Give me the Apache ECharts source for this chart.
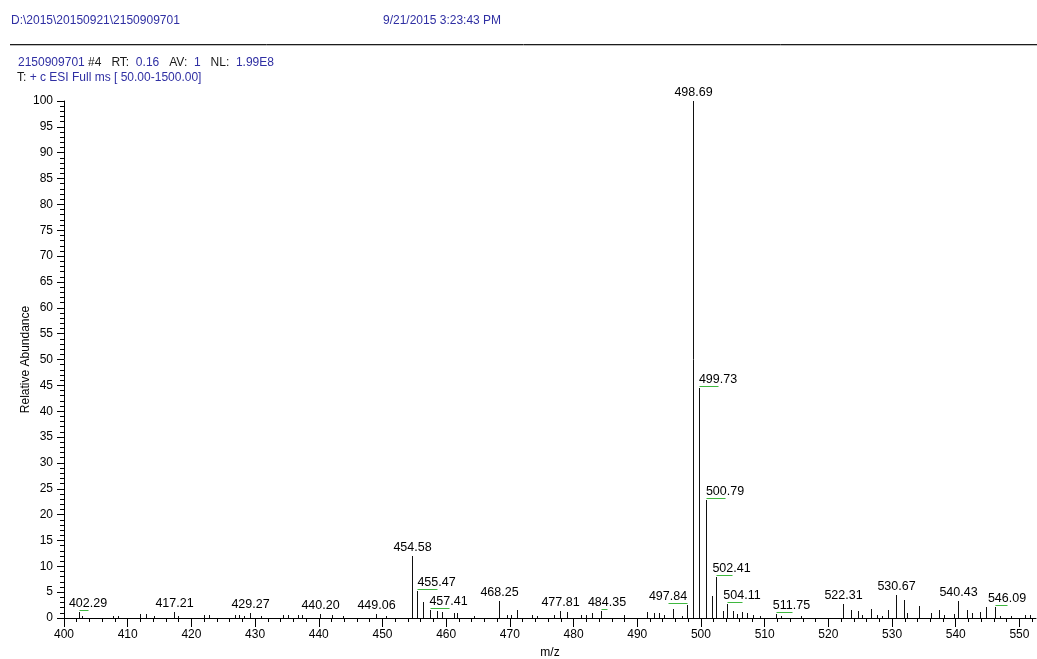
<!DOCTYPE html>
<html>
<head>
<meta charset="utf-8">
<title>2150909701 #4 mass spectrum</title>
<script src="https://cdn.jsdelivr.net/npm/echarts@6/dist/echarts.min.js"></script>
<style>
  html, body { margin: 0; padding: 0; background: #ffffff; }
  #chart { width: 1037px; height: 659px; }
</style>
</head>
<body>
<div id="chart"></div>
<script>
// Centroid peaks: m/z and relative abundance (%)
const peakMz = [
  402.29, 402.9, 407.7, 408.4, 412.0, 412.8, 414.2, 417.21, 417.9, 422.0,
  422.8, 426.8, 427.5, 428.3, 429.27, 431.0, 434.4, 435.1, 436.7, 437.3,
  440.20, 442.0, 443.8, 449.06, 450.6, 454.58, 455.47, 456.3, 457.41, 458.5,
  459.3, 461.2, 461.7, 464.3, 468.25, 469.6, 470.1, 471.1, 473.5, 474.2,
  476.9, 477.81, 478.9, 481.2, 482.0, 482.9, 484.35, 487.9, 491.6, 492.6,
  493.4, 494.2, 495.6, 497.1, 497.84, 498.69, 499.73, 500.79, 501.8, 502.41,
  503.4, 504.11, 505.1, 505.6, 506.4, 507.3, 508.2, 509.3, 511.75, 512.5,
  515.7, 522.31, 523.5, 524.7, 525.3, 526.7, 527.7, 528.4, 529.4, 530.67,
  531.8, 532.4, 534.3, 536.1, 537.4, 538.2, 539.8, 540.43, 541.8, 542.6,
  543.8, 544.8, 546.09, 546.9, 548.7, 550.8, 551.7
];
const peakIntensity = [
  1.2, 0.4, 0.4, 0.4, 0.7, 0.7, 0.3, 1.1, 0.4, 0.5,
  0.5, 0.6, 0.6, 0.3, 1.0, 0.3, 0.5, 0.5, 0.6, 0.6,
  0.8, 0.5, 0.3, 0.8, 0.4, 12.0, 5.3, 3.1, 1.6, 1.3,
  1.2, 1.0, 1.0, 0.4, 3.2, 0.6, 0.6, 1.6, 0.6, 0.4,
  0.6, 1.3, 1.1, 0.6, 0.6, 1.0, 1.4, 0.6, 1.2, 0.9,
  0.9, 0.6, 1.7, 0.4, 2.5, 100.0, 44.4, 22.8, 4.3, 7.9,
  1.4, 2.8, 1.3, 0.8, 1.1, 1.0, 0.5, 0.3, 0.8, 0.4,
  0.4, 2.8, 1.5, 1.3, 0.5, 1.8, 0.5, 0.4, 1.5, 4.4,
  3.5, 1.0, 2.4, 1.0, 1.5, 0.5, 0.8, 3.2, 1.5, 1.0,
  1.2, 2.2, 2.1, 0.4, 0.4, 0.6, 0.6
];
// Peaks that carry an m/z annotation
const labeledMz = [
  402.29, 417.21, 429.27, 440.20, 449.06, 454.58, 455.47, 457.41, 468.25,
  477.81, 484.35, 497.84, 498.69, 499.73, 500.79, 502.41, 504.11, 511.75,
  522.31, 530.67, 540.43, 546.09
];
const xTickValues = [400, 410, 420, 430, 440, 450, 460, 470, 480, 490, 500, 510, 520, 530, 540, 550];

const headerPath = 'D:\\2015\\20150921\\2150909701';
const headerDate = '9/21/2015 3:23:43 PM';
const scanLine = ['2150909701', '#4', 'RT:', '0.16', 'AV:', '1', 'NL:', '1.99E8'];
const filterLine = ['T:', '+ c ESI Full ms [ 50.00-1500.00]'];

// Layout/styling of the annotation text (horizontal shift of a label away from its stick, px)
const labelShift = {
  '402.29': 8.5, '455.47': 19, '457.41': 18, '484.35': 5.5, '497.84': -19.5,
  '499.73': 18.5, '500.79': 18.5, '502.41': 15, '504.11': 14.5, '511.75': 15, '546.09': 11.5
};

const FONT = 'Arial, "Liberation Sans", sans-serif';
const BLUE = '#2f2fa3';
const LEADER = '#3fb83f';
const X_MAX = 552.6;

const minorTickValues = [];
for (let v = 402; v <= 552; v += 2) { if (v % 10 !== 0) minorTickValues.push(v); }

const labelData = labeledMz.map(m => [m, peakIntensity[peakMz.indexOf(m)]]);

const chart = echarts.init(document.getElementById('chart'), null, { renderer: 'canvas' });

const richStyles = {
  b: { color: BLUE, fontSize: 12, fontFamily: FONT },
  k: { color: '#1a1a1a', fontSize: 12, fontFamily: FONT }
};

const option = {
  animation: false,
  backgroundColor: '#ffffff',
  title: [
    { text: headerPath, left: 11, top: 15, padding: 0,
      textStyle: { color: BLUE, fontSize: 12, fontWeight: 'normal', fontFamily: FONT } },
    { text: headerDate, left: 383, top: 15, padding: 0,
      textStyle: { color: BLUE, fontSize: 12, fontWeight: 'normal', fontFamily: FONT } },
    { text: '{b|' + scanLine[0] + '} {k|' + scanLine[1] + '}   {k|' + scanLine[2] + '}  {b|' + scanLine[3] +
            '}   {k|' + scanLine[4] + '}  {b|' + scanLine[5] + '}   {k|' + scanLine[6] + '}  {b|' + scanLine[7] + '}',
      left: 18, top: 57, padding: 0,
      textStyle: { fontSize: 12, fontFamily: FONT, fontWeight: 'normal', rich: richStyles } },
    { text: '{k|' + filterLine[0] + '} {b|' + filterLine[1] + '}',
      left: 17, top: 72, padding: 0,
      textStyle: { fontSize: 12, fontFamily: FONT, fontWeight: 'normal', rich: richStyles } }
  ],
  graphic: [
    { type: 'line', shape: { x1: 10, y1: 44.5, x2: 1037, y2: 44.5 }, style: { stroke: '#1c1c1c', lineWidth: 1 } },
    { type: 'line', shape: { x1: 10, y1: 45.5, x2: 1037, y2: 45.5 }, style: { stroke: '#bdbdbd', lineWidth: 1 } }
  ],
  grid: { left: 64, top: 101, width: 972, height: 517, containLabel: false, outerBoundsMode: 'none' },
  xAxis: [
    {
      type: 'value', min: 400, max: X_MAX, interval: 10, position: 'bottom',
      axisLine: { show: true, onZero: false, lineStyle: { color: '#000', width: 1 } },
      axisTick: { show: true, customValues: xTickValues, length: 9, lineStyle: { color: '#000', width: 1 } },
      minorTick: { show: false },
      axisLabel: { customValues: xTickValues, margin: 11, color: '#000', fontSize: 12, fontFamily: FONT },
      splitLine: { show: false },
      name: 'm/z', nameLocation: 'middle', nameGap: 29, nameMoveOverlap: false,
      nameTextStyle: { color: '#000', fontSize: 12, fontFamily: FONT }
    },
    {
      type: 'value', min: 400, max: X_MAX, position: 'bottom',
      axisLine: { show: false },
      axisTick: { show: true, customValues: minorTickValues, length: 4, lineStyle: { color: '#000', width: 1 } },
      axisLabel: { show: false },
      splitLine: { show: false }
    }
  ],
  yAxis: {
    type: 'value', min: 0, max: 100, interval: 5,
    axisLine: { show: true, onZero: false, lineStyle: { color: '#000', width: 1 } },
    axisTick: { show: true, length: 7, lineStyle: { color: '#000', width: 1 } },
    minorTick: { show: true, splitNumber: 5, length: 4, lineStyle: { color: '#000', width: 1 } },
    axisLabel: { margin: 11, color: '#000', fontSize: 12, fontFamily: FONT },
    splitLine: { show: false },
    name: 'Relative Abundance', nameLocation: 'middle', nameGap: 32, nameRotate: 90, nameMoveOverlap: false,
    nameTextStyle: { color: '#000', fontSize: 12, fontFamily: FONT }
  },
  series: [
    {
      // stick spectrum
      type: 'custom',
      xAxisIndex: 0,
      data: peakMz.map((m, i) => [m, peakIntensity[i]]),
      renderItem: function (params, api) {
        const top = api.coord([api.value(0), api.value(1)]);
        const base = api.coord([api.value(0), 0]);
        const x = Math.round(top[0]) + 0.5;
        return {
          type: 'line',
          shape: { x1: x, y1: base[1], x2: x, y2: Math.round(top[1]) },
          style: { stroke: '#111', lineWidth: 1 }
        };
      }
    },
    {
      // m/z annotations, with a green leader when a label is shifted off its stick
      type: 'custom',
      xAxisIndex: 0,
      data: labelData,
      renderItem: function (params, api) {
        const mz = api.value(0);
        const p = api.coord([mz, api.value(1)]);
        const x = Math.round(p[0]) + 0.5;
        const y = Math.round(p[1]);
        const key = mz.toFixed(2);
        const dx = labelShift[key] || 0;
        const children = [{
          type: 'text',
          z2: 1,
          style: {
            text: key, x: x + dx, y: y - 2,
            align: 'center', verticalAlign: 'bottom',
            fill: '#000', fontSize: 12.5, fontFamily: FONT
          }
        }];
        if (dx) {
          children.push({
            type: 'line',
            z2: 2,
            shape: { x1: x, y1: y - 1.5, x2: Math.round(x + dx) + 0.5, y2: y - 1.5 },
            style: { stroke: LEADER, lineWidth: 1 }
          });
        }
        return { type: 'group', children: children };
      }
    }
  ]
};

chart.setOption(option);
</script>
</body>
</html>
